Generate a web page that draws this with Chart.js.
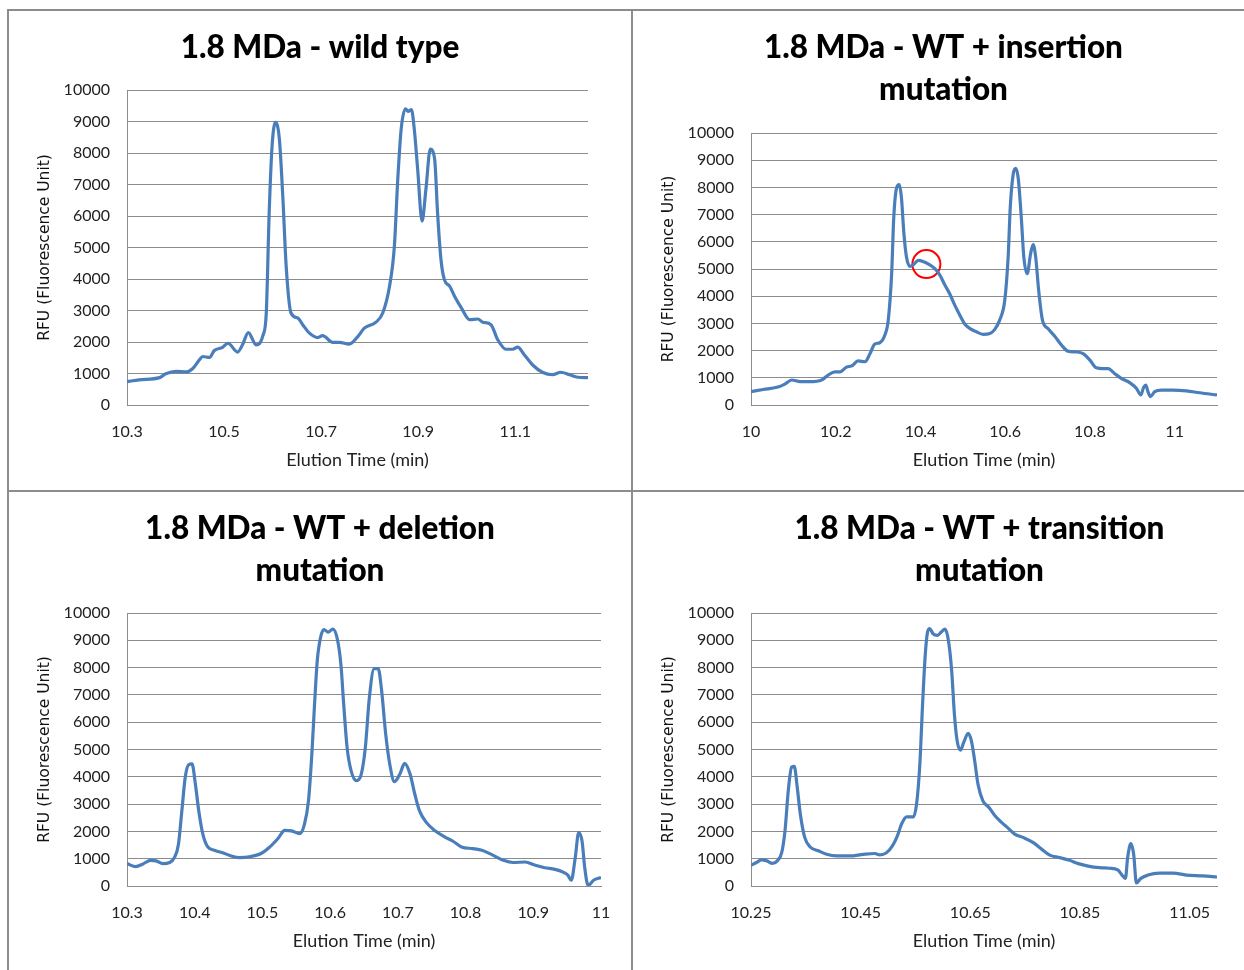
<!DOCTYPE html>
<html>
<head>
<meta charset="utf-8">
<title>1.8 MDa elution profiles</title>
<script src="https://cdn.jsdelivr.net/npm/chart.js@4.4.1/dist/chart.umd.min.js"></script>
<style>
html, body { margin: 0; padding: 0; background: #fff; }
body { position: relative; width: 1244px; height: 970px; overflow: hidden; }
canvas { position: absolute; }
.rule { position: absolute; background: #8c8c8c; }
</style>
</head>
<body>
<div class="rule" style="left:7px;top:9px;width:2px;height:961px"></div>
<div class="rule" style="left:7px;top:9px;width:1237px;height:2px"></div>
<div class="rule" style="left:631px;top:9px;width:2px;height:961px"></div>
<div class="rule" style="left:7px;top:490px;width:1237px;height:2px"></div>

<canvas id="wt" width="622" height="478" style="left:9px;top:11px"></canvas>
<canvas id="ins" width="621" height="478" style="left:633px;top:11px"></canvas>
<canvas id="del" width="622" height="478" style="left:9px;top:492px"></canvas>
<canvas id="tra" width="693" height="478" style="left:633px;top:492px"></canvas>

<script>
// Datas (elution time in min, RFU)
var wtTime = [10.300,10.325,10.367,10.380,10.401,10.422,10.435,10.449,10.456,10.470,10.480,10.497,10.508,10.528,10.538,10.550,10.566,10.580,10.587,10.593,10.599,10.606,10.614,10.621,10.628,10.638,10.652,10.662,10.676,10.693,10.703,10.724,10.738,10.758,10.776,10.789,10.813,10.827,10.841,10.851,10.858,10.865,10.874,10.880,10.886,10.892,10.899,10.908,10.916,10.925,10.934,10.940,10.947,10.954,10.965,10.975,10.989,11.006,11.023,11.033,11.050,11.064,11.081,11.095,11.105,11.119,11.136,11.157,11.177,11.194,11.212,11.229,11.250];
var wtRfu = [740,800,870,990,1070,1050,1150,1430,1540,1510,1730,1830,1960,1680,1910,2300,1910,2200,2920,6100,8230,8970,8440,6640,4410,2920,2760,2550,2280,2140,2200,1990,1990,1930,2180,2440,2630,2920,3770,5040,7170,8760,9400,9320,9380,8760,7480,5840,6850,8120,7800,6100,4620,3980,3770,3450,3080,2710,2730,2630,2550,2070,1770,1770,1840,1590,1270,1030,960,1040,960,880,870];

var insTime = [10.000,10.029,10.061,10.080,10.096,10.116,10.139,10.167,10.182,10.198,10.210,10.226,10.237,10.253,10.269,10.281,10.292,10.304,10.316,10.324,10.332,10.337,10.344,10.350,10.355,10.361,10.367,10.375,10.384,10.395,10.406,10.418,10.434,10.446,10.458,10.469,10.481,10.493,10.505,10.517,10.532,10.548,10.564,10.575,10.587,10.599,10.607,10.612,10.619,10.625,10.631,10.638,10.644,10.652,10.660,10.666,10.672,10.679,10.688,10.701,10.717,10.733,10.748,10.768,10.784,10.800,10.815,10.831,10.843,10.858,10.874,10.894,10.910,10.920,10.927,10.932,10.937,10.943,10.953,10.969,10.996,11.028,11.059,11.100];
var insRfu = [490,570,650,770,920,860,860,920,1100,1220,1220,1400,1430,1620,1590,1890,2240,2290,2570,3120,4830,6900,8000,8100,7640,6290,5440,5100,5170,5320,5280,5190,5010,4770,4400,4090,3670,3300,2970,2810,2690,2600,2630,2770,3120,3850,5440,7270,8490,8700,8310,6900,5440,4830,5560,5900,5440,4220,3120,2810,2530,2200,1980,1950,1890,1650,1370,1340,1340,1160,980,820,610,370,650,730,490,310,490,550,550,520,450,370];
// the red circle marked on the insertion trace
var markTime = [10.414];
var markRfu = [5180];

var delTime = [10.300,10.313,10.323,10.335,10.343,10.353,10.363,10.370,10.376,10.381,10.386,10.391,10.396,10.401,10.406,10.412,10.419,10.429,10.441,10.454,10.466,10.481,10.498,10.510,10.523,10.533,10.543,10.555,10.562,10.568,10.573,10.577,10.581,10.586,10.591,10.597,10.604,10.611,10.616,10.620,10.625,10.631,10.639,10.646,10.652,10.658,10.665,10.671,10.676,10.682,10.688,10.695,10.703,10.710,10.718,10.725,10.732,10.742,10.755,10.769,10.782,10.794,10.811,10.824,10.838,10.856,10.870,10.888,10.902,10.917,10.932,10.944,10.951,10.956,10.962,10.967,10.972,10.976,10.981,10.989,11.000];
var delRfu = [820,710,800,940,920,820,860,1040,1530,2750,3980,4440,4470,3730,2750,1900,1440,1310,1220,1100,1040,1070,1190,1410,1740,2040,2020,1920,2260,3120,4840,6670,8260,9120,9390,9300,9410,9000,8080,6670,5080,4220,3860,4100,5080,6920,7960,7960,7160,5570,4470,3820,4100,4490,4100,3370,2750,2330,2020,1800,1630,1430,1370,1310,1160,940,860,880,770,670,610,510,400,210,1040,1960,1650,670,20,210,310];

var traTime = [10.250,10.260,10.269,10.279,10.289,10.298,10.306,10.312,10.318,10.324,10.329,10.334,10.340,10.348,10.358,10.373,10.388,10.406,10.430,10.455,10.476,10.485,10.497,10.508,10.517,10.525,10.534,10.546,10.552,10.558,10.563,10.568,10.572,10.576,10.582,10.590,10.597,10.604,10.610,10.616,10.621,10.626,10.632,10.638,10.646,10.652,10.658,10.664,10.673,10.684,10.695,10.707,10.719,10.731,10.746,10.765,10.780,10.795,10.813,10.831,10.847,10.865,10.886,10.904,10.919,10.928,10.933,10.937,10.943,10.948,10.953,10.961,10.974,10.995,11.020,11.044,11.074,11.100];
var traRfu = [760,860,960,920,830,920,1220,2020,3490,4350,4380,3670,2630,1780,1430,1290,1160,1100,1100,1160,1190,1140,1220,1470,1840,2290,2530,2530,3000,4470,6670,8510,9300,9430,9240,9180,9300,9410,9000,7900,6300,5320,4980,5260,5590,5320,4590,3730,3120,2880,2570,2330,2120,1900,1780,1590,1350,1130,1040,940,820,730,670,650,590,370,280,1040,1550,1160,110,280,400,470,470,400,370,330];

// tick labels
var wtTicks = [10.3, 10.5, 10.7, 10.9, 11.1];
var insTicks = [10, 10.2, 10.4, 10.6, 10.8, 11];
var delTicks = [10.3, 10.4, 10.5, 10.6, 10.7, 10.8, 10.9, 11];
var traTicks = [10.25, 10.45, 10.65, 10.85, 11.05];

var lineBlue = '#4a7ebb';
var gridGrey = '#8c8c8c';

function Points(times, values) {
    var out = [];
    for (var i = 0; i < times.length; i++)
        out.push({x: times[i], y: values[i]});
    return out;
}

// an empty right axis (spare) keeps the title centred where Excel put it
function MakePanel(id, title, times, values, xMin, xMax, xTicks, spare, titleGap, mark) {
    var ctx = document.getElementById(id).getContext('2d');
    var datasets = [{
        data: Points(times, values),
        borderColor: lineBlue,
        borderWidth: 3.2,
        pointRadius: 0,
        cubicInterpolationMode: 'monotone',
        fill: false
    }];
    if (mark) {
        datasets.push({
            data: Points(mark[0], mark[1]),
            showLine: false,
            pointRadius: 14,
            pointHoverRadius: 14,
            pointBorderWidth: 2,
            pointBorderColor: '#ff0000',
            pointBackgroundColor: 'rgba(0,0,0,0)'
        });
    }
    new Chart(ctx, {
        type: 'line',
        data: {datasets: datasets},
        options: {
            responsive: false,
            animation: false,
            devicePixelRatio: 1,
            layout: {padding: 0},
            plugins: {
                legend: {display: false},
                tooltip: {enabled: false},
                title: {
                    display: true,
                    text: title,
                    color: '#000',
                    font: {family: 'Lato', weight: '900', size: 31.5, lineHeight: 42 / 31.5},
                    padding: {top: 16, bottom: titleGap}
                }
            },
            scales: {
                x: {
                    type: 'linear',
                    min: xMin,
                    max: xMax,
                    afterBuildTicks: function (scale) {
                        scale.ticks = xTicks.map(function (v) { return {value: v}; });
                    },
                    afterFit: function (scale) { scale.height = 84; },
                    grid: {display: false},
                    border: {display: true, color: gridGrey, width: 1},
                    ticks: {
                        color: '#222',
                        padding: 9,
                        maxRotation: 0,
                        autoSkip: false,
                        font: {family: 'Lato', size: 16},
                        callback: function (v) { return String(Number(v.toFixed(2))); }
                    },
                    title: {
                        display: true,
                        text: 'Elution Time (min)',
                        color: '#222',
                        font: {family: 'Lato', size: 18, lineHeight: 1.2},
                        padding: {top: 0, bottom: 18}
                    }
                },
                y: {
                    min: 0,
                    max: 10000,
                    afterFit: function (scale) { scale.width = 118; },
                    grid: {color: gridGrey, lineWidth: 1, drawTicks: false},
                    border: {display: true, color: gridGrey, width: 1},
                    ticks: {
                        stepSize: 1000,
                        color: '#222',
                        padding: 17,
                        font: {family: 'Lato', size: 16},
                        callback: function (v) { return String(v); }
                    },
                    title: {
                        display: true,
                        text: 'RFU (Fluorescence Unit)',
                        color: '#111',
                        font: {family: 'DejaVu Sans', size: 15.5, lineHeight: 1.2},
                        padding: {top: 26.7, bottom: 0}
                    }
                },
                spare: {
                    position: 'right',
                    afterFit: function (scale) { scale.width = spare; },
                    grid: {display: false},
                    border: {display: false},
                    ticks: {display: false}
                }
            }
        }
    });
}

MakePanel('wt', '1.8 MDa - wild type', wtTime, wtRfu, 10.3, 11.25, wtTicks, 43, 21, null);
MakePanel('ins', ['1.8 MDa - WT + insertion', 'mutation'], insTime, insRfu, 10, 11.1, insTicks, 37, 22, [markTime, markRfu]);
MakePanel('del', ['1.8 MDa - WT + deletion', 'mutation'], delTime, delRfu, 10.3, 11, delTicks, 30, 21, null);
MakePanel('tra', ['1.8 MDa - WT + transition', 'mutation'], traTime, traRfu, 10.25, 11.1, traTicks, 109, 21, null);
</script>
</body>
</html>
